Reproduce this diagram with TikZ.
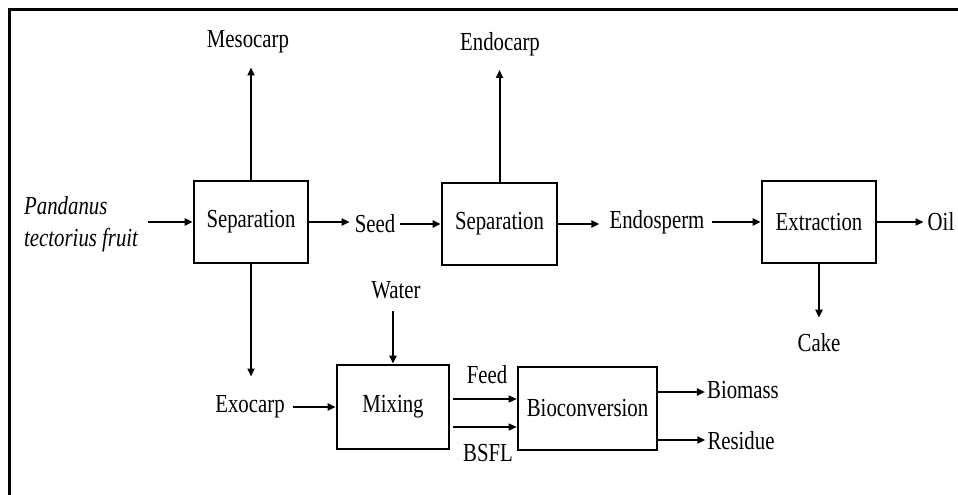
\documentclass[tikz,border=0pt]{standalone}
\usepackage{fontspec}
\setmainfont{Liberation Serif}[FakeStretch=0.8]
\usetikzlibrary{arrows.meta,calc}
\begin{document}
\begin{tikzpicture}[x=1pt,y=-1pt,
  font=\fontsize{26}{32}\selectfont,
  box/.style={draw,line width=2.6pt,inner sep=0pt},
  lbl/.style={inner sep=0pt},
  arr/.style={line width=2pt,-{Triangle[length=8pt,width=7pt]}},
  thin arr/.style={line width=1.3pt,-{Triangle[length=8pt,width=7pt]}}]
\useasboundingbox (0,0) rectangle (958,495);
\fill[white] (0,0) rectangle (958,495);
\draw[line width=3pt] (9,494.9) -- (9,10) -- (958,10);

% process boxes
\node[box,minimum width=114pt,minimum height=82pt] (sep1) at (251,222) {Separation};
\node[box,minimum width=115pt,minimum height=82pt] (sep2) at (499.5,224) {Separation};
\node[box,minimum width=114pt,minimum height=82pt] (ext) at (819,222) {Extraction};
\node[box,minimum width=112pt,minimum height=84pt] (mix) at (393,407) {Mixing};
\node[box,minimum width=139pt,minimum height=83pt] (bio) at (587.5,408.5) {Bioconversion};

% labels
\node[lbl] (meso) at (248,42) {Mesocarp};
\node[lbl] (endo) at (500,44) {Endocarp};
\node[lbl,anchor=west,align=left,font=\fontsize{26}{32}\selectfont\itshape] (pand) at (24,224) {Pandanus\\tectorius fruit};
\node[lbl] (seed) at (375,224) {Seed};
\node[lbl] (endosp) at (657,222) {Endosperm};
\node[lbl] (oil) at (941,222) {Oil};
\node[lbl] (cake) at (819,343) {Cake};
\node[lbl] (water) at (396,290) {Water};
\node[lbl] (exo) at (250,407) {Exocarp};
\node[lbl] (feed) at (487,375) {Feed};
\node[lbl] (bsfl) at (488,453) {BSFL};
\node[lbl] (biomass) at (743,390) {Biomass};
\node[lbl] (residue) at (741,441) {Residue};

% connectors
\draw[arr,shorten >=14pt] (sep1.north) -- (sep1.north |- meso.south);
\draw[arr,shorten >=14pt] (sep2.north) -- (sep2.north |- endo.south);
\draw[arr,shorten <=10pt] (pand.east |- sep1.west) -- (sep1.west);
\draw[arr,shorten >=5pt] (sep1.east) -- (sep1.east -| seed.west);
\draw[arr,shorten <=5pt] (seed.east) -- (seed.east -| sep2.west);
\draw[arr,shorten >=10pt] (sep2.east) -- (sep2.east -| endosp.west);
\draw[arr,shorten <=7pt] (endosp.east) -- (endosp.east -| ext.west);
\draw[arr,shorten >=4pt] (ext.east) -- (ext.east -| oil.west);
\draw[arr,shorten >=16pt] (ext.south) -- (ext.south |- cake.north);
\draw[arr,shorten >=19pt] (sep1.south) -- (sep1.south |- exo.north);
\draw[arr,shorten <=8pt] (exo.east) -- (exo.east -| mix.west);
\draw[arr,shorten <=12pt] (mix.north |- water.south) -- (mix.north);
\draw[thin arr,shorten <=3pt] ([yshift=8pt]mix.east) -- ([yshift=8pt]mix.east -| bio.west);
\draw[thin arr,shorten <=3pt] ([yshift=-20pt]mix.east) -- ([yshift=-20pt]mix.east -| bio.west);
\draw[arr,shorten >=2pt] ([yshift=16.5pt]bio.east) -- ([yshift=16.5pt]bio.east -| biomass.west);
\draw[arr,shorten >=2pt] ([yshift=-31.5pt]bio.east) -- ([yshift=-31.5pt]bio.east -| residue.west);
\end{tikzpicture}
\end{document}
